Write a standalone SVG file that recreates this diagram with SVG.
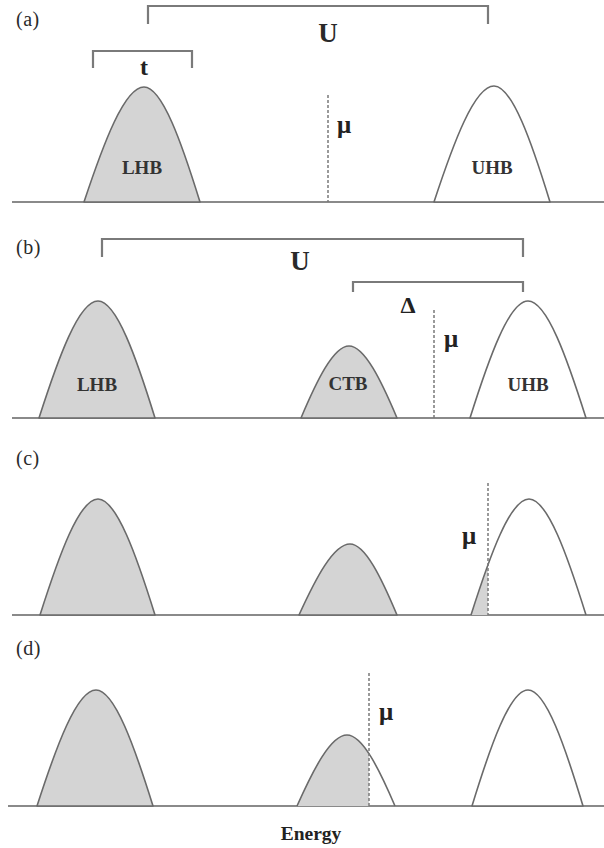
<svg xmlns="http://www.w3.org/2000/svg" width="604" height="848" viewBox="0 0 604 848">
<style>
.bg{fill:#fff}
.band{stroke:#6a6a6a;stroke-width:1.6;stroke-linejoin:round}
.filled{fill:#d4d4d4}
.empty{fill:#fff}
.shade{fill:#d4d4d4;stroke:none}
.outline{fill:none;stroke:#6a6a6a;stroke-width:1.6}
.axis{stroke:#8a8a8a;stroke-width:2;fill:none}
.bracket{stroke:#7a7a7a;stroke-width:2.2;fill:none}
.mu{stroke:#7a7a7a;stroke-width:1.5;stroke-dasharray:3 2;fill:none}
.lbl{font-family:"Liberation Serif","Times New Roman",serif;font-size:20px;fill:#2a2a2a;letter-spacing:0.5px}
.band-lbl{font-family:"Liberation Serif","Times New Roman",serif;font-size:19px;font-weight:bold;fill:#333;text-anchor:middle}
.sym{font-family:"Liberation Serif","Times New Roman",serif;font-weight:bold;fill:#222}
.musym{font-family:"Liberation Serif","Times New Roman",serif;font-weight:bold;fill:#222;font-size:25px}
.big{font-family:"Liberation Serif","Times New Roman",serif;font-weight:bold;fill:#2a2a2a;font-size:27px;text-anchor:middle}
.energy{font-family:"Liberation Serif","Times New Roman",serif;font-weight:bold;font-size:19.5px;fill:#222;text-anchor:middle}
</style>
<defs>
<clipPath id="clipC"><rect x="0" y="400" width="488" height="230"/></clipPath>
<clipPath id="clipD"><rect x="0" y="640" width="369" height="180"/></clipPath>
</defs>
<rect class="bg" x="0" y="0" width="604" height="848"/>

<!-- Panel (a) -->
<g id="panel-a">
  <text class="lbl" x="16" y="26">(a)</text>
  <line class="axis" x1="12" y1="202" x2="604" y2="202"/>
  <g id="a-LHB">
    <path class="band filled" d="M84,202 C103.5,143.3 124.5,87 144,87 C162.2,87 181.8,143.3 200,202 Z"/>
    <text class="band-lbl" x="142" y="174">LHB</text>
  </g>
  <g id="a-UHB">
    <path class="band empty" d="M434,202 C453.5,142.7 474.5,86 494,86 C512.2,86 531.8,142.7 550,202 Z"/>
    <text class="band-lbl" x="492" y="174">UHB</text>
  </g>
  <g id="a-mu">
    <line class="mu" x1="328" y1="95" x2="328" y2="202"/>
    <text class="musym" x="337" y="133">μ</text>
  </g>
</g>

<!-- Panel (b) -->
<g id="panel-b">
  <text class="lbl" x="16" y="254">(b)</text>
  <line class="axis" x1="12" y1="418" x2="604" y2="418"/>
  <g id="b-LHB">
    <path class="band filled" d="M39,418 C58.2,358.2 78.8,301 98,301 C116.5,301 136.5,358.2 155,418 Z"/>
    <text class="band-lbl" x="97" y="391">LHB</text>
  </g>
  <g id="b-CTB">
    <path class="band filled" d="M301,418 C316.6,381.2 333.4,346 349,346 C364.6,346 381.4,381.2 397,418 Z"/>
    <text class="band-lbl" x="348" y="390">CTB</text>
  </g>
  <g id="b-UHB">
    <path class="band empty" d="M470,418 C488.9,358.2 509.1,301 528,301 C546.9,301 567.1,358.2 586,418 Z"/>
    <text class="band-lbl" x="528" y="391">UHB</text>
  </g>
  <g id="b-mu">
    <line class="mu" x1="434" y1="310" x2="434" y2="418"/>
    <text class="musym" x="444" y="347">μ</text>
  </g>
</g>

<!-- Panel (c) -->
<g id="panel-c">
  <text class="lbl" x="16" y="465">(c)</text>
  <line class="axis" x1="12" y1="615" x2="604" y2="615"/>
  <g id="c-LHB">
    <path class="band filled" d="M40,615 C58.9,555.7 79.1,499 98,499 C116.5,499 136.5,555.7 155,615 Z"/>
  </g>
  <g id="c-CTB">
    <path class="band filled" d="M299,615 C315.6,578.7 333.4,544 350,544 C365.3,544 381.7,578.7 397,615 Z"/>
  </g>
  <g id="c-UHB">
    <path class="shade" clip-path="url(#clipC)" d="M471,615 C489.9,555.7 510.1,499 529,499 C547.5,499 567.5,555.7 586,615 Z"/>
    <path class="outline" d="M471,615 C489.9,555.7 510.1,499 529,499 C547.5,499 567.5,555.7 586,615"/>
  </g>
  <g id="c-mu">
    <line class="mu" x1="488" y1="483" x2="488" y2="615"/>
    <text class="musym" x="462" y="544">μ</text>
  </g>
</g>

<!-- Panel (d) -->
<g id="panel-d">
  <text class="lbl" x="16" y="655">(d)</text>
  <line class="axis" x1="8" y1="806" x2="604" y2="806"/>
  <g id="d-LHB">
    <path class="band filled" d="M37,806 C56.2,746.7 76.8,690 96,690 C114.5,690 134.5,746.7 153,806 Z"/>
  </g>
  <g id="d-CTB">
    <path class="shade" clip-path="url(#clipD)" d="M297,806 C313.3,769.7 330.7,735 347,735 C362.6,735 379.4,769.7 395,806 Z"/>
    <path class="outline" d="M297,806 C313.3,769.7 330.7,735 347,735 C362.6,735 379.4,769.7 395,806"/>
  </g>
  <g id="d-UHB">
    <path class="band empty" d="M472,806 C490.2,746.7 509.8,690 528,690 C545.9,690 565.1,746.7 583,806 Z"/>
  </g>
  <g id="d-mu">
    <line class="mu" x1="369" y1="673" x2="369" y2="806"/>
    <text class="musym" x="379" y="720">μ</text>
  </g>
  <text id="energy" class="energy" x="311" y="840">Energy</text>
</g>

<!-- Brackets -->
<g id="connectors">
  <path class="bracket" d="M148,24 V6 H488 V24"/>
  <text class="big" x="328" y="42">U</text>
  <path class="bracket" d="M93,68 V51 H192 V68"/>
  <text class="sym" x="144" y="75" font-size="24" text-anchor="middle">t</text>
  <path class="bracket" d="M102,257 V239 H523 V257"/>
  <text class="big" x="300" y="270">U</text>
  <path class="bracket" d="M353,292 V282 H523 V292"/>
  <text class="sym" x="408" y="313" font-size="24" text-anchor="middle">Δ</text>
</g>
</svg>
